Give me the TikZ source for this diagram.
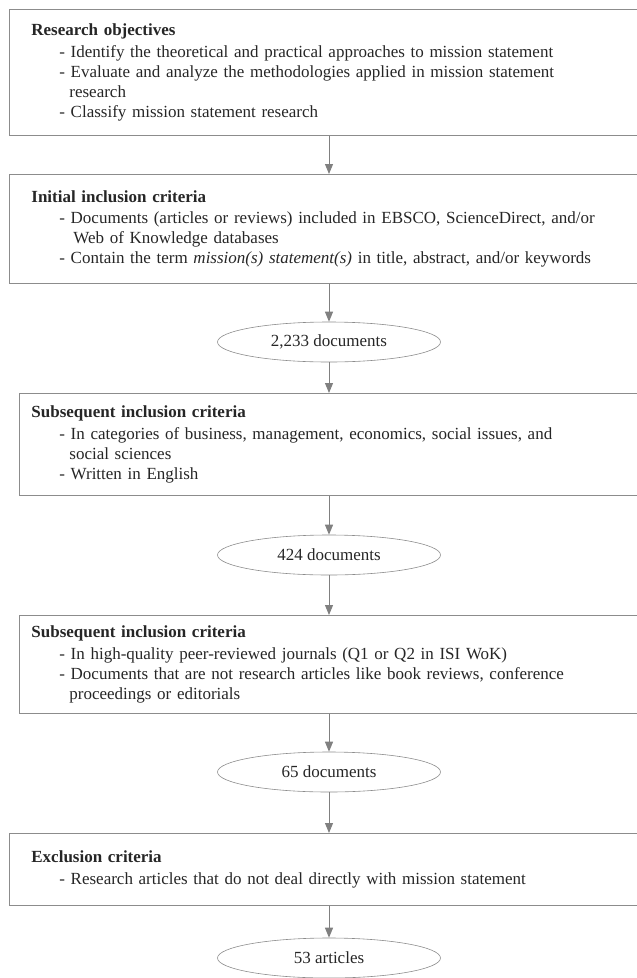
\documentclass[tikz,border=0pt]{standalone}
\usepackage{fontspec}
\setmainfont{Liberation Serif}
\usetikzlibrary{arrows.meta,shapes.geometric}
\newcommand{\entry}[1]{{\leftskip=28pt\noindent -\ #1\par}}
\newcommand{\cont}[2][10pt]{{\leftskip=28pt\noindent\hspace*{#1}#2\par}}
\newcommand{\boxtitle}[1]{\noindent\textbf{#1}\par\vspace{1.5pt}}
\begin{document}
\begin{tikzpicture}[x=1pt,y=-1pt,
  every node/.style={text=black!85},
  boxA/.style={draw=black!45,line width=0.8pt,rectangle,anchor=north west,
    inner xsep=22pt,inner ysep=0pt,text width=597pt,align=left,
    font=\fontsize{17}{20}\selectfont},
  boxB/.style={boxA,inner xsep=12pt,text width=607pt},
  ell/.style={draw=black!45,line width=0.6pt,ellipse,minimum width=223pt,minimum height=40pt,
    inner sep=0pt,font=\fontsize{17}{20}\selectfont},
  arr/.style={draw=black!50,line width=1pt,-{Triangle[width=8pt,length=10pt]}}]
\useasboundingbox (0,0) rectangle (637,978);
\clip (0,0) rectangle (637,978);
\node[boxA,minimum height=126pt] (b1) at (9,9) {\boxtitle{Research objectives}
\entry{Identify the theoretical and practical approaches to mission statement}
\entry{Evaluate and analyze the methodologies applied in mission statement}
\cont{research}
\entry{Classify mission statement research}};
\node[boxA,minimum height=109pt] (b2) at (9,174) {\boxtitle{Initial inclusion criteria}
\entry{Documents (articles or reviews) included in EBSCO, ScienceDirect, and/or}
\cont[14pt]{Web of Knowledge databases}
\entry{Contain the term \textit{mission(s) statement(s)} in title, abstract, and/or keywords}};
\node[ell] (e1) at (329,342) {2,233 documents};
\node[boxB,minimum height=102pt] (b3) at (19,393) {\boxtitle{Subsequent inclusion criteria}
\entry{In categories of business, management, economics, social issues, and}
\cont{social sciences}
\entry{Written in English}};
\node[ell] (e2) at (329,555) {424 documents};
\node[boxB,minimum height=98pt] (b4) at (19,615) {\boxtitle{Subsequent inclusion criteria}
\entry{In high-quality peer-reviewed journals (Q1 or Q2 in ISI WoK)}
\entry{Documents that are not research articles like book reviews, conference}
\cont{proceedings or editorials}};
\node[ell] (e3) at (329,772) {65 documents};
\node[boxA,minimum height=72pt] (b5) at (9,833) {\boxtitle{Exclusion criteria}
\entry{Research articles that do not deal directly with mission statement}};
\node[ell] (e4) at (329,958) {53 articles};
\draw[arr] (b1.south -| e1) -- (b2.north -| e1);
\draw[arr] (b2.south -| e1) -- (e1.north);
\draw[arr] (e1.south) -- (b3.north -| e1);
\draw[arr] (b3.south -| e2) -- (e2.north);
\draw[arr] (e2.south) -- (b4.north -| e2);
\draw[arr] (b4.south -| e3) -- (e3.north);
\draw[arr] (e3.south) -- (b5.north -| e3);
\draw[arr] (b5.south -| e4) -- (e4.north);
\end{tikzpicture}
\end{document}
